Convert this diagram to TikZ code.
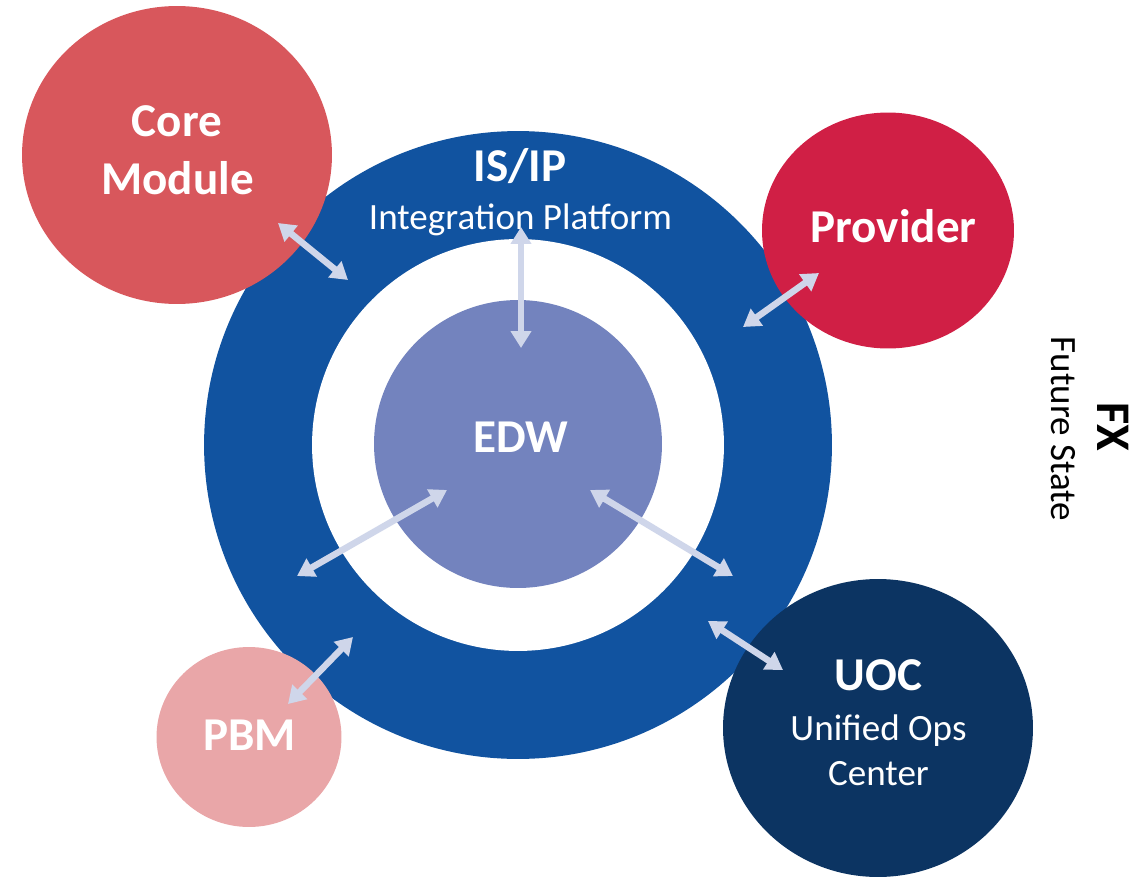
\documentclass[tikz,border=0pt]{standalone}
\usepackage{fontspec}
\setmainfont{Carlito}
\usetikzlibrary{arrows.meta,positioning,shapes.geometric}

\definecolor{ringblue}{RGB}{17,83,160}
\definecolor{edwblue}{RGB}{115,131,190}
\definecolor{corered}{RGB}{216,87,92}
\definecolor{provred}{RGB}{208,31,69}
\definecolor{pbmpink}{RGB}{233,166,168}
\definecolor{uocnavy}{RGB}{12,52,98}
\definecolor{linkgrey}{RGB}{207,214,234}

\tikzset{
  bubble/.style={ellipse,inner sep=0pt,draw=none},
  title/.style={text=white,anchor=base,inner sep=0pt,font=\fontsize{26.8}{32.5}\selectfont\bfseries},
  sub/.style={text=white,anchor=base,inner sep=0pt,align=center,font=\fontsize{21.1}{25.1}\selectfont},
  link/.style={draw=linkgrey,line width=0.13cm,
    {Triangle[length=0.34cm,width=0.40cm]}-{Triangle[length=0.34cm,width=0.40cm]}}
}

\begin{document}
\begin{tikzpicture}[x=0.02cm,y=-0.02cm]
    \useasboundingbox (0,0) rectangle (1143,879);

    % integration ring and warehouse
    \node[circle,fill=ringblue,minimum size=12.56cm,inner sep=0pt] (ring) at (518,445) {};
    \node[circle,fill=white,minimum size=8.24cm,inner sep=0pt] (hole) at (518,445) {};
    \node[circle,fill=edwblue,minimum size=5.76cm,inner sep=0pt] (edw) at (518,444) {};

    % outer systems
    \node[bubble,fill=corered,minimum width=6.2cm,minimum height=5.96cm] (core) at (177,155) {};
    \node[bubble,fill=provred,minimum width=5.04cm,minimum height=4.72cm] (prov) at (888,230.5) {};
    \node[bubble,fill=pbmpink,minimum width=3.7cm,minimum height=3.6cm] (pbm) at (249,737) {};
    \node[bubble,fill=uocnavy,minimum width=6.2cm,minimum height=5.96cm] (uoc) at (878,728) {};

    % labels
    \node[title] (isip) at (520,181.7) {IS/IP};
    \node[sub] (isipsub) at (520.5,229) {Integration Platform};
    \node[title] (edwt) at (521,452) {EDW};
    \node[title] (coret) at (177,136.7) {Core};
    \node[title] (coret2) at (177.5,194) {Module};
    \node[title] (provt) at (893.5,242.7) {Provider};
    \node[title] (pbmt) at (249.5,750.7) {PBM};
    \node[title] (uoct) at (878.5,690.7) {UOC};
    \node[sub] (uocsub) at (878.5,785) {Unified Ops\\Center};

    \node[rotate=-90,anchor=base,inner sep=0pt,font=\fontsize{27.5}{33}\selectfont\bfseries] (fx) at (1097,427) {FX};
    \node[rotate=-90,anchor=base,inner sep=0pt,font=\fontsize{21.1}{25}\selectfont] (fxsub) at (1051,429) {Future State};

    % links
    \coordinate (c1) at (278,223);  \coordinate (c2) at (348,280);
    \coordinate (i1) at (521,227);  \coordinate (i2) at (521,348);
    \coordinate (p1) at (819,273);  \coordinate (p2) at (743,327);
    \coordinate (l1) at (447,490);  \coordinate (l2) at (297,576);
    \coordinate (r1) at (590,490);  \coordinate (r2) at (733,576);
    \coordinate (u1) at (708,621);  \coordinate (u2) at (783,670);
    \coordinate (b1) at (288,704);  \coordinate (b2) at (353,637);

    \draw[link] (c1) -- (c2);
    \draw[link] (i1) -- (i2);
    \draw[link] (p1) -- (p2);
    \draw[link] (l1) -- (l2);
    \draw[link] (r1) -- (r2);
    \draw[link] (u1) -- (u2);
    \draw[link] (b1) -- (b2);
\end{tikzpicture}
\end{document}
